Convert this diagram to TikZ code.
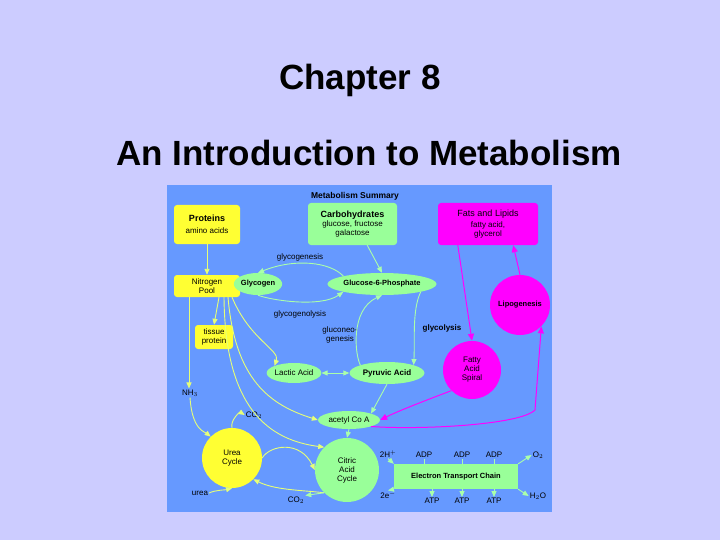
\documentclass[tikz,border=0pt]{standalone}
\usepackage{fontspec}
\setmainfont{Liberation Sans}
\usetikzlibrary{arrows.meta,shapes.geometric}
\definecolor{bg}{RGB}{204,204,255}
\definecolor{panel}{RGB}{102,153,255}
\definecolor{yel}{RGB}{255,255,51}
\definecolor{grn}{RGB}{153,255,153}
\definecolor{mag}{RGB}{255,0,255}
\definecolor{gline}{RGB}{170,255,170}
\definecolor{yline}{RGB}{230,255,120}
\begin{document}
\begin{tikzpicture}[x=1pt,y=-1pt,
  every node/.style={font=\fontsize{8}{9}\selectfont, inner sep=1pt, align=center},
  ybox/.style={fill=yel, rounded corners=3pt, minimum width=66pt},
  gbox/.style={fill=grn, rounded corners=3pt},
  gell/.style={ellipse, fill=grn, inner sep=0pt},
  circ/.style={circle, inner sep=0pt},
  bsm/.style={font=\bfseries\fontsize{7.5}{9}\selectfont},
  ga/.style={draw=gline, line width=0.9pt, -{Triangle[length=6pt,width=5pt]}},
  ya/.style={draw=yline, line width=0.9pt, -{Triangle[length=6pt,width=5pt]}},
  ma/.style={draw=mag, line width=1pt, -{Triangle[length=7pt,width=6pt]}}]
\useasboundingbox (0,0) rectangle (720,540);
\fill[bg] (0,0) rectangle (720,540);
\fill[panel] (167,185) rectangle (552,512);
\node[font=\bfseries\fontsize{35}{38}\selectfont] (t1) at (360,80) {Chapter 8};
\node[font=\bfseries\fontsize{35}{38}\selectfont] (t2) at (369,153) {An Introduction to Metabolism};
\node[font=\bfseries\fontsize{8.5}{9}\selectfont] (ms) at (355,196) {Metabolism Summary};
% boxes
\node[ybox, minimum height=39pt] (prot) at (207,224.5) {\textbf{\fontsize{9}{10}\selectfont Proteins}\\[3pt] amino acids};
\node[gbox, minimum width=89pt, minimum height=42pt] (carb) at (352.5,224) {\textbf{\fontsize{9}{10}\selectfont Carbohydrates}\\ glucose, fructose\\ galactose};
\node[fill=mag, rounded corners=3pt, minimum width=100pt, minimum height=42pt] (fat) at (488,224) {{\fontsize{9}{10}\selectfont Fats and Lipids}\\[2pt] fatty acid,\\ glycerol};
\node[ybox, minimum height=22pt] (npool) at (207,286) {Nitrogen\\ Pool};
\node[fill=yel, rounded corners=3pt, minimum width=38pt, minimum height=24pt] (tis) at (214,337) {tissue\\ protein};
\node[gell, minimum width=48pt, minimum height=22pt, bsm] (glyc) at (258,284) {Glycogen};
\node[gell, minimum width=100pt, minimum height=22pt, bsm] (g6p) at (382,284) {Glucose-6-Phosphate};
\node[circ, fill=mag, minimum size=60pt, bsm] (lipo) at (520,305) {Lipogenesis};
\node[circ, fill=mag, minimum size=58pt] (fas) at (472,370) {Fatty\\ Acid\\ Spiral};
\node[gell, minimum width=50pt, minimum height=20pt] (lac) at (294,373) {Lactic Acid};
\node[gell, minimum width=75pt, minimum height=22pt, font=\bfseries\fontsize{8}{9}\selectfont] (pyr) at (387,373) {Pyruvic Acid};
\node[gell, minimum width=62pt, minimum height=18pt] (aca) at (349,420) {acetyl Co A};
\node[circ, fill=yel, minimum size=60pt] (urea) at (232,458) {Urea\\ Cycle};
\node[circ, fill=grn, minimum size=64pt] (cac) at (347,470) {Citric\\ Acid\\ Cycle};
\node[fill=grn, minimum width=124pt, minimum height=25pt, inner sep=0pt, bsm] (etc) at (456,476.5) {Electron Transport Chain};
% labels
\node (gg) at (300,257) {glycogenesis};
\node (gl) at (300,314) {glycogenolysis};
\node (gn) at (340,335) {gluconeo-\\genesis};
\node[font=\bfseries\fontsize{8}{9}\selectfont] (gy) at (442,328) {glycolysis};
\node (nh) at (190,393) {NH$_3$};
\node (co1) at (254,415) {CO$_2$};
\node (co2) at (296,500) {CO$_2$};
\node (ur) at (200,493) {urea};
\node (h2) at (388,454) {2H$^+$};
\node (e2) at (388,495) {2e$^-$};
\node (o2) at (538,455) {O$_2$};
\node (h2o) at (538,496) {H$_2$O};
\node (ad1) at (424,455) {ADP}; \node (ad2) at (462,455) {ADP}; \node (ad3) at (494,455) {ADP};
\node (at1) at (432,501) {ATP}; \node (at2) at (462,501) {ATP}; \node (at3) at (494,501) {ATP};
% arrows
\draw[ya] (prot) -- (npool);
\coordinate (n0) at ([xshift=-18pt]npool.south);
\coordinate (n1) at ([xshift=12pt]npool.south);
\coordinate (n2) at ([xshift=17pt]npool.south);
\coordinate (n3) at ([xshift=21pt]npool.south);
\coordinate (n4) at ([xshift=25pt]npool.south);
\draw[ya] (n0) -- (nh.north -| n0);
\draw[ya] (n1) -- (tis.north);
\draw[ga] (carb.south east) ++(-30,0) coordinate (c1) (c1) -- (g6p.north);
\draw[ga] (g6p.north west) .. controls (330,262) and (295,258) .. (glyc.north);
\draw[ga] (glyc.south) .. controls (270,300) and (320,308) .. (g6p.south west);
\draw[ga] (pyr.north west) .. controls (355,355) and (350,310) .. (g6p.south);
\draw[ga] (g6p.south east) .. controls (412,310) and (415,340) .. (pyr.north east);
\draw[ga, {Triangle[length=6pt,width=5pt]}-{Triangle[length=6pt,width=5pt]}] (lac) -- (pyr);
\draw[ga] (pyr.south) -- (aca.north east);
\draw[ga] (aca.south) -- (cac.north);
\draw[ya] (n4) .. controls (250,340) and (280,350) .. (lac.north west);
\draw[ya] (n3) .. controls (235,380) and (270,405) .. (aca.west);
\draw[ya] (n2) .. controls (225,410) and (270,440) .. (cac.north west);
\draw[ya] (nh.south) .. controls (192,430) and (205,432) .. (urea.north west);
\draw[ya] (urea.north) .. controls (230,420) and (240,412) .. (co1.west);
\draw[ya] (urea.east) .. controls (270,445) and (300,440) .. (cac.west);
\draw[ya] (cac.south west) .. controls (300,490) and (275,490) .. (urea.south east);
\draw[ya] (ur.east) .. controls (215,490) and (225,490) .. (urea.south);
\draw[ga] (cac.south west) -- (co2.north east);
\draw[ga] (h2.south) -- (etc.north west);
\draw[ga] (etc.south west) -- (e2.north);
\draw[ga] (etc.north east) -- (o2.west);
\draw[ga] (etc.south east) -- (h2o.west);
\foreach \a in {ad1,ad2,ad3}{\draw[gline, line width=0.8pt] (\a) -- (\a |- etc.north);}
\foreach \a in {at1,at2,at3}{\draw[ga] (\a |- etc.south) -- (\a.north);}
\draw[ma] (fat.south west) ++(20,0) coordinate (f1) (f1) -- (fas.north);
\draw[ma] (fas.south west) .. controls (440,395) and (400,410) .. (aca.east);
\draw[ma] (aca.south east) .. controls (420,430) and (520,425) .. (535,410) -- (lipo.south east);
\draw[ma] (lipo.north) -- ([xshift=-25pt]fat.south east);
\end{tikzpicture}
\end{document}
